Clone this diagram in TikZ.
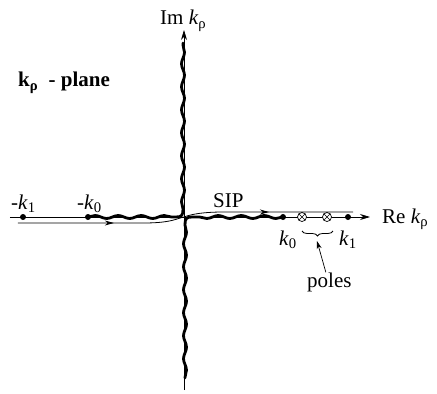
\documentclass[tikz,border=0pt]{standalone}
\usepackage{fontspec}
\setmainfont{Liberation Serif}
\usetikzlibrary{arrows.meta,decorations.markings,decorations.pathmorphing,decorations.pathreplacing}

\tikzset{
  axis/.style={line width=0.8pt, -{Stealth[length=10pt,width=6pt]}},
  cut/.style={line width=2.8pt, line cap=round, decoration={snake, amplitude=1.5pt, segment length=23pt}},
  branchpt/.style={circle, fill, inner sep=0pt, minimum size=6pt},
  polept/.style={circle, draw, fill=white, line width=0.7pt, inner sep=0pt, minimum size=9pt,
    path picture={\draw[line width=0.6pt] (path picture bounding box.south west) -- (path picture bounding box.north east)
      (path picture bounding box.north west) -- (path picture bounding box.south east);}},
  sip/.style={line width=0.8pt, postaction={decorate, decoration={markings,
    mark=at position 0.285 with {\arrow{Stealth[length=9pt,width=5pt]}},
    mark=at position 0.75 with {\arrow{Stealth[length=9pt,width=5pt]}}}}},
  lbl/.style={font=\fontsize{21}{24}\selectfont, inner sep=0pt, anchor=base west},
}

\begin{document}
\begin{tikzpicture}[x=1pt, y=1pt]
  \useasboundingbox (-184,-177) rectangle (253,217);
  % --- axes ---
  \coordinate (reL) at (-174,0);
  \coordinate (reR) at (186,0);
  \coordinate (imB) at (0,-173);
  \coordinate (imT) at (0,187);
  \draw[axis] (reL) -- (reR);
  \draw[axis] (imB) -- (imT);
  % --- branch points and poles ---
  \coordinate (mk1) at (-161,0);
  \coordinate (mk0) at (-96,0);
  \coordinate (k0) at (99,0);
  \coordinate (k1) at (164,0);
  % --- branch cuts ---
  \draw[cut] (mk0) decorate {-- (-8,0)} .. controls (-2,0) and (-1,2) .. (-1,8) decorate {-- (-1,174)};
  \draw[cut] (k0) decorate {-- (8,0)} .. controls (2,0) and (1,-2) .. (1,-8) decorate {-- (1,-161)};
  \node[branchpt] (dmk1) at (mk1) {};
  \node[branchpt] (dmk0) at (mk0) {};
  \node[branchpt] (dk0) at (k0) {};
  \node[branchpt] (dk1) at (k1) {};
  \node[polept] (pole1) at (118,0) {};
  \node[polept] (pole2) at (143,0) {};
  % --- SIP contour ---
  \draw[sip] (-166,-6) -- (-40,-6) .. controls (-12,-6) and (-6,-1) .. (0,0)
    .. controls (8,3) and (20,5) .. (40,5) -- (169,5);
  % --- labels ---
  \node[lbl] (lmk1) at (-173,8) {-\textit{k}\textsubscript{1}};
  \node[lbl] (lmk0) at (-107,8) {-\textit{k}\textsubscript{0}};
  \node[lbl] (lk0) at (95,-28) {\textit{k}\textsubscript{0}};
  \node[lbl] (lk1) at (155,-28) {\textit{k}\textsubscript{1}};
  \node[lbl] (sipl) at (29,10) {SIP};
  \node[lbl] (rel) at (198,-6) {Re \textit{k}\textsubscript{ρ}};
  \node[lbl] (iml) at (-24,192) {Im \textit{k}\textsubscript{ρ}};
  \node[lbl, font=\fontsize{21}{24}\selectfont\bfseries] (plane) at (-166,130) {k\textsubscript{ρ}~ - plane};
  \node[lbl] (poles) at (123,-70) {poles};
  % --- brace over the poles ---
  \coordinate (brl) at (118,-14);
  \coordinate (brr) at (149,-14);
  \coordinate (brtip) at (133,-24);
  \draw[line width=0.8pt, decorate, decoration={brace, mirror, amplitude=5pt}] (brl) -- (brr);
  \draw[line width=0.7pt, -{Stealth[length=8pt,width=5pt]}] (poles.110) -- (brtip);
\end{tikzpicture}
\end{document}
